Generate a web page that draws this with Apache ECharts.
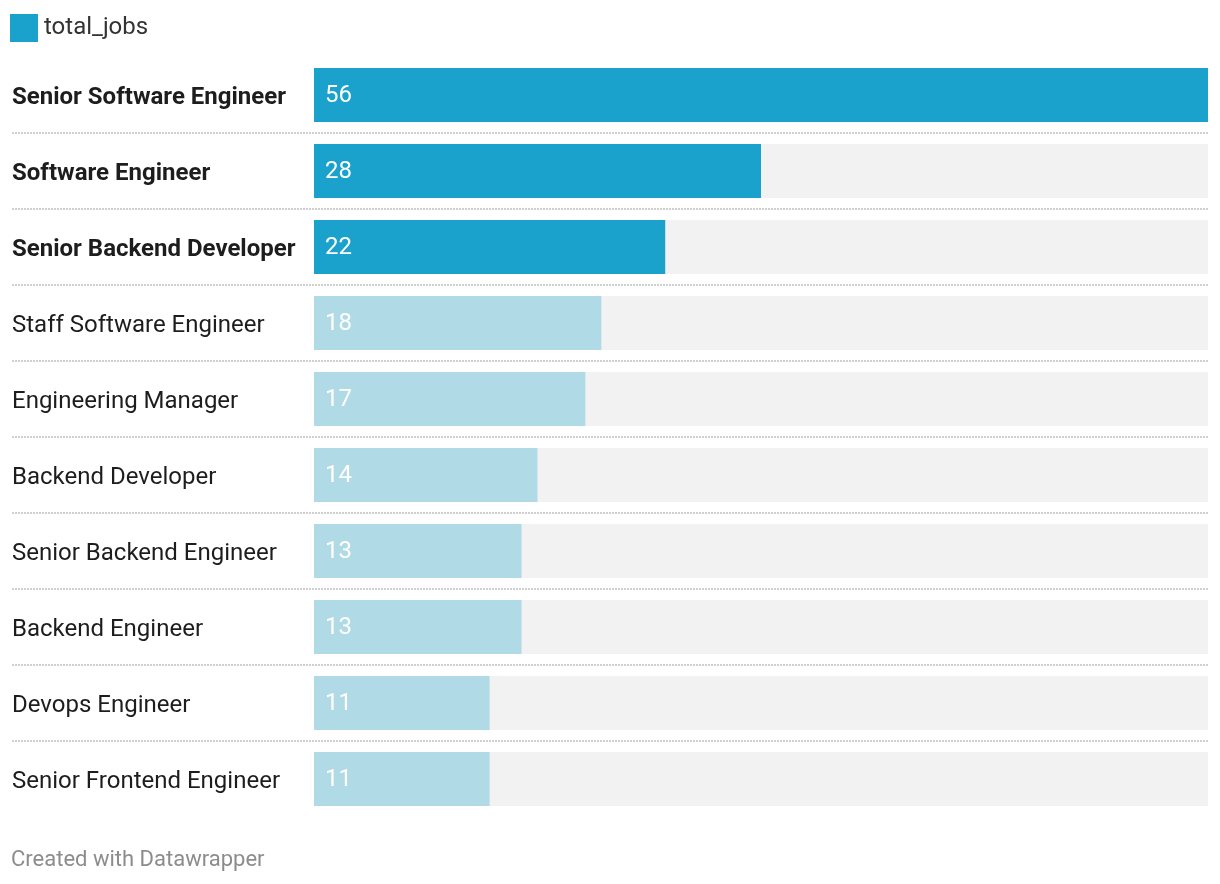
<!DOCTYPE html>
<html>
<head>
<meta charset="utf-8">
<script src="https://cdn.jsdelivr.net/npm/echarts@6/dist/echarts.min.js"></script>
<style>
html,body{margin:0;padding:0;background:#fff;}
#chart{width:1220px;height:884px;}
</style>
</head>
<body>
<div id="chart"></div>
<script>
const categories = [
  "Senior Software Engineer",
  "Software Engineer",
  "Senior Backend Developer",
  "Staff Software Engineer",
  "Engineering Manager",
  "Backend Developer",
  "Senior Backend Engineer",
  "Backend Engineer",
  "Devops Engineer",
  "Senior Frontend Engineer"
];
const totalJobs = [56, 28, 22, 18, 17, 14, 13, 13, 11, 11];
const highlighted = [true, true, true, false, false, false, false, false, false, false];

const DARK = "#1aa1cc";
const LIGHT = "#b1dae7";
const FONT = "Roboto, 'Noto Sans', sans-serif";

const PLOT_TOP = 57;
const PLOT_H = 760;
const n = categories.length;

const chart = echarts.init(document.getElementById("chart"), null, {renderer: "canvas"});

chart.setOption({
  animation: false,
  textStyle: {fontFamily: FONT},
  title: {
    text: "Created with Datawrapper",
    left: 11,
    top: 849,
    padding: 0,
    textStyle: {fontFamily: FONT, fontSize: 22, fontWeight: "normal", color: "#8c8c8c"}
  },
  legend: {
    left: 10,
    top: 14,
    padding: 0,
    icon: "rect",
    itemWidth: 28,
    itemHeight: 28,
    itemGap: 20,
    textStyle: {fontFamily: FONT, fontSize: 24, color: "#333", padding: [3, 0, 0, 1]},
    data: [{name: "total_jobs", itemStyle: {color: DARK}}]
  },
  grid: [
    {left: 314, right: 12, top: PLOT_TOP, height: PLOT_H, outerBoundsMode: "none", containLabel: false},
    {left: 12, right: 12, top: PLOT_TOP, height: PLOT_H * (n - 1) / n, outerBoundsMode: "none", containLabel: false}
  ],
  xAxis: [
    {type: "value", gridIndex: 0, min: 0, max: 56, show: false},
    {type: "value", gridIndex: 1, min: 0, max: 1, show: false}
  ],
  yAxis: [
    {
      type: "category",
      gridIndex: 0,
      inverse: true,
      data: categories,
      axisLine: {show: false},
      axisTick: {show: false},
      splitLine: {show: false},
      axisLabel: {
        margin: 12,
        formatter: function (v, i) {
          return (highlighted[i] ? "{b|" : "{n|") + v + "}";
        },
        rich: {
          b: {width: 290, align: "left", padding: [6, 0, 0, 0], fontFamily: FONT, fontSize: 24, fontWeight: "bold", color: "#1d1d1d"},
          n: {width: 290, align: "left", padding: [6, 0, 0, 0], fontFamily: FONT, fontSize: 24, fontWeight: "normal", color: "#1d1d1d"}
        }
      }
    },
    {
      type: "category",
      gridIndex: 1,
      inverse: true,
      data: categories.slice(0, n - 1),
      axisLine: {show: false},
      axisTick: {show: false},
      axisLabel: {show: false},
      splitLine: {
        show: true,
        interval: function (i) { return i > 0; },
        lineStyle: {color: "#d0d0d0", width: 2, type: [2, 1]}
      }
    }
  ],
  series: [
    {
      name: "total_jobs",
      type: "bar",
      xAxisIndex: 0,
      yAxisIndex: 0,
      barWidth: 54,
      data: totalJobs.map((v, i) => ({
        value: v,
        itemStyle: {color: highlighted[i] ? DARK : LIGHT}
      })),
      showBackground: true,
      backgroundStyle: {color: "#f2f2f2"},
      label: {
        show: true,
        position: "insideLeft",
        distance: 11,
        offset: [0, 1],
        fontFamily: FONT,
        fontSize: 24,
        color: "#ffffff"
      }
    }
  ]
});
</script>
</body>
</html>
